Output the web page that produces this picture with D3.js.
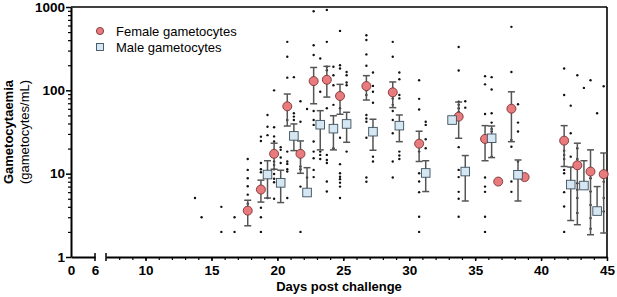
<!DOCTYPE html>
<html>
<head>
<meta charset="utf-8">
<script src="https://cdn.jsdelivr.net/npm/d3@7"></script>
<style>
  body { margin: 0; background: #fff; }
  svg { display: block; font-family: Arial, "Liberation Sans", sans-serif; }
  .axis path, .axis line { stroke: #000; }
  .axis text { font-size: 13.5px; font-weight: bold; fill: #000; }
</style>
</head>
<body>
<div id="chart"></div>
<script>
// female gametocytes: mean and error bar limits per day
const femaleDays = [18, 19, 20, 21, 22, 23, 24, 25, 27, 29, 31, 34, 36, 37, 38, 39, 42, 43, 44, 45];
const femaleMean = [3.6, 6.45, 17.3, 64.3, 17.3, 129, 134, 85.5, 112.5, 94.6, 22.9, 48.3, 26.1, 8.04, 60.2, 9.1, 24.9, 12.6, 10.6, 9.86];
const femaleLow  = [2.37, 4.56, 11.3, 37.3, 10.1, 69, 83, 51.6, 76.5, 62, 14, 26.6, 14.3, null, 24.2, null, 12.2, 2.44, 1.85, 1.94];
const femaleHigh = [4.8, 8.36, 23.2, 90.3, 24.7, 188, 194, 118, 150, 126, 32.3, 72.4, 37.7, null, 96, null, 37.7, 23.2, 19.3, 17.7];

// male gametocytes
const maleDays = [19, 20, 21, 22, 23, 24, 25, 27, 29, 31, 33, 34, 36, 38, 42, 43, 44];
const maleMean = [9.76, 7.76, 28.4, 5.94, 38.7, 34.7, 39.5, 31.9, 37.7, 10.2, 44, 10.6, 26.6, 9.7, 7.4, 7.2, 3.56];
const maleLow  = [5.1, 4.5, 18.9, null, 19.3, 19.3, 23.8, 19.1, 24.2, 6.1, null, 4.7, 15.6, 4.7, 2.74, null, null];
const maleHigh = [14.3, 11, 39.5, 11.8, 57, 49.6, 54.5, 45, 50.6, 14.3, null, 16.5, 37.3, 14.6, 12, 14.3, 7];

// individual values (day, values)
const femaleDots = [
  [14, [5.1]], [16, [4.0, 2.0]], [17, [3.0, 2.0]],
  [18, [15, 11.1, 8.8, 7.05, 5.6, 4.35]],
  [19, [27.8, 24.7, 13.4, 11.3, 10.4, 3.9, 3.0, 2.0]],
  [20, [100, 36, 28, 24.3, 14, 12.7, 11.3, 9.9, 8.7, 7.9, 5.0]],
  [21, [382, 253, 142, 44, 18.4, 14, 13.1, 11.3, 10.6, 5.1]],
  [22, [74, 42, 12.2, 11.3, 7, 2]],
  [23, [890, 348, 265, 56.5, 44, 38.5, 24.3, 18.4, 15.3, 11.1, 9.1]],
  [24, [923, 382, 192, 174, 61, 16.8, 14.6, 13.4, 8.05, 6.1]],
  [25, [517, 200, 183, 61, 27, 13, 10.1, 9.2, 8.6, 7.8, 7, 5.1]],
  [27, [459, 402, 270, 197, 100, 88, 50.6, 46, 42, 27, 9, 8]],
  [29, [382, 253, 80, 67, 56.5, 44, 30.5, 14, 9]],
  [31, [132, 79, 59, 18.4, 10.1, 8.05, 6, 3.04, 2]],
  [34, [331, 173, 73, 67, 61, 55, 20.8, 11.1, 9.1, 6.05, 5.0, 3.04]],
  [36, [148, 118, 52, 9, 7, 6.05, 3.04, 2]],
  [38, [578, 166, 25.4, 21, 8.05, 6.05]],
  [42, [183, 88, 18.9, 16.8, 15, 11.1, 10.1, 6, 4.04, 2]],
  [43, [152, 20.2, 15, 7.7, 6.4, 5.1, 3.37]],
  [44, [132, 8.8, 6.1, 4.2, 2.93, 2.18]],
  [45, [112, 8, 5.1, 3.52]]
];
const maleDots = [
  [14, [3.0]],
  [19, [50.6, 36.6, 29, 5.1]],
  [20, [20.8, 19.3, 15.6, 13.4]],
  [21, [144, 53, 48.4, 44]],
  [22, [59.6, 9.0]],
  [23, [241, 96, 18.4, 16.8, 15]],
  [24, [192, 152, 115, 67, 20.2]],
  [25, [166, 152, 124, 115, 18.4]],
  [27, [164, 113, 96, 71, 16, 14]],
  [29, [164, 136, 88, 80, 18.4, 16.5, 15]],
  [31, [42, 38.5, 25.9, 20.2]],
  [34, [74, 62]],
  [36, [144, 102.5, 53, 41, 34.4, 32, 16]],
  [38, [68, 41, 32, 14]],
  [42, [65.5, 30.5, 16]],
  [43, [107]],
  [44, [53]]
];

const yTicks = [1, 10, 100, 1000];
const xTicksLeft = [0, 6];
const xTicksRight = [10, 15, 20, 25, 30, 35, 40, 45];

const width = 617, height = 297;
const m = {left: 71, right: 607, top: 7, bottom: 257};

const svg = d3.select("#chart").append("svg")
    .attr("width", width)
    .attr("height", height);

// broken x axis: 0-6 squeezed, 7-45 main part
const xLeft = d3.scaleLinear().domain([0, 6]).range([m.left, 95]);
const xRight = d3.scaleLinear().domain([7, 45]).range([106, m.right]);
const x = d => d < 6.5 ? xLeft(d) : xRight(d);

const y = d3.scaleLog().domain([1, 1000]).range([m.bottom, m.top]);

const femaleOffset = -0.25, maleOffset = 0.25;

// frame (top and right)
svg.append("line")
    .attr("x1", m.left).attr("x2", m.right)
    .attr("y1", y(1000)).attr("y2", y(1000))
    .attr("stroke", "#000").attr("stroke-width", 1.6);
svg.append("line")
    .attr("x1", m.right).attr("x2", m.right)
    .attr("y1", y(1000)).attr("y2", y(1))
    .attr("stroke", "#000").attr("stroke-width", 1.6);

// y axis
const minorY = [];
[1, 10, 100].forEach(dec => d3.range(2, 10).forEach(k => minorY.push(dec * k)));

svg.append("g")
    .attr("class", "axis")
    .attr("transform", `translate(${m.left},0)`)
    .call(d3.axisLeft(y).tickValues(minorY).tickSize(3).tickFormat("").tickSizeOuter(0))
    .call(g => g.select(".domain").remove())
    .selectAll("line").attr("stroke-width", 1.2);

const yAxis = svg.append("g")
    .attr("class", "axis")
    .attr("transform", `translate(${m.left},0)`)
    .call(d3.axisLeft(y).tickValues(yTicks).tickFormat(d3.format("d")).tickSize(5).tickPadding(1).tickSizeOuter(0));
yAxis.select(".domain").attr("stroke-width", 2);
yAxis.selectAll("line").attr("stroke-width", 1.5);

// x axis, left part
const xAxisL = svg.append("g")
    .attr("class", "axis")
    .attr("transform", `translate(0,${m.bottom})`)
    .call(d3.axisBottom(xLeft).tickValues(xTicksLeft).tickFormat(d3.format("d")).tickSize(0).tickPadding(8).tickSizeOuter(0));
xAxisL.select(".domain").attr("stroke-width", 2);

// x axis, right part
svg.append("g")
    .attr("class", "axis")
    .attr("transform", `translate(0,${m.bottom})`)
    .call(d3.axisBottom(xRight).tickValues(d3.range(8, 45)).tickSize(3).tickFormat("").tickSizeOuter(0))
    .call(g => g.select(".domain").remove())
    .selectAll("line").attr("stroke-width", 1.2);

const xAxisR = svg.append("g")
    .attr("class", "axis")
    .attr("transform", `translate(0,${m.bottom})`)
    .call(d3.axisBottom(xRight).tickValues(xTicksRight).tickFormat(d3.format("d")).tickSize(4).tickPadding(4).tickSizeOuter(0));
xAxisR.select(".domain").attr("stroke-width", 2);
xAxisR.selectAll("line").attr("stroke-width", 1.5);

// break caps
svg.selectAll("line.brk")
    .data([6, 7])
    .enter().append("line")
    .attr("class", "brk")
    .attr("x1", d => x(d)).attr("x2", d => x(d))
    .attr("y1", m.bottom - 4).attr("y2", m.bottom + 4)
    .attr("stroke", "#000").attr("stroke-width", 1.5);

// axis titles
svg.append("text")
    .attr("x", (m.left + m.right) / 2).attr("y", 291)
    .attr("text-anchor", "middle")
    .style("font-size", "13px").style("font-weight", "bold")
    .text("Days post challenge");

const yt = svg.append("text")
    .attr("transform", `translate(13,${(m.top + m.bottom) / 2}) rotate(-90)`)
    .attr("text-anchor", "middle");
yt.append("tspan").attr("x", 0).attr("dy", 0)
    .style("font-size", "13px").style("font-weight", "bold")
    .text("Gametocytaemia");
yt.append("tspan").attr("x", 0).attr("dy", 16)
    .style("font-size", "13px")
    .text("(gametocytes/mL)");

// individual dots
const dots = [];
femaleDots.forEach(([d, vals]) => vals.forEach(v => dots.push({day: d + femaleOffset, v})));
maleDots.forEach(([d, vals]) => vals.forEach(v => dots.push({day: d + maleOffset, v})));

svg.append("g").selectAll("circle")
    .data(dots)
    .enter().append("circle")
    .attr("cx", d => x(d.day))
    .attr("cy", d => y(d.v))
    .attr("r", 1.2)
    .attr("fill", "#111");

// error bars
function errorBars(days, mean, low, high, offset) {
    const g = svg.append("g").attr("stroke", "#555").attr("stroke-width", 1.5).attr("fill", "none");
    days.forEach((d, i) => {
        const cx = x(d + offset);
        if (high[i] == null) return;
        g.append("line")
            .attr("x1", cx).attr("x2", cx)
            .attr("y1", y(high[i])).attr("y2", y(low[i] != null ? low[i] : mean[i]));
        g.append("line")
            .attr("x1", cx - 3.5).attr("x2", cx + 3.5)
            .attr("y1", y(high[i])).attr("y2", y(high[i]));
        if (low[i] != null) {
            g.append("line")
                .attr("x1", cx - 3.5).attr("x2", cx + 3.5)
                .attr("y1", y(low[i])).attr("y2", y(low[i]));
        }
    });
}
errorBars(femaleDays, femaleMean, femaleLow, femaleHigh, femaleOffset);
errorBars(maleDays, maleMean, maleLow, maleHigh, maleOffset);

// means
const femaleColor = "#e97a7d", femaleStroke = "#7a3434";
const maleColor = "#d4e7f3", maleStroke = "#3d4f5c";

svg.append("g").selectAll("circle")
    .data(femaleDays.map((d, i) => ({day: d, v: femaleMean[i]})))
    .enter().append("circle")
    .attr("cx", d => x(d.day + femaleOffset))
    .attr("cy", d => y(d.v))
    .attr("r", 4.5)
    .attr("fill", femaleColor)
    .attr("stroke", femaleStroke)
    .attr("stroke-width", 0.9);

svg.append("g").selectAll("rect")
    .data(maleDays.map((d, i) => ({day: d, v: maleMean[i]})))
    .enter().append("rect")
    .attr("x", d => x(d.day + maleOffset) - 4.3)
    .attr("y", d => y(d.v) - 4.3)
    .attr("width", 8.6).attr("height", 8.6)
    .attr("fill", maleColor)
    .attr("stroke", maleStroke)
    .attr("stroke-width", 0.9);

// legend
const legend = svg.append("g").attr("transform", "translate(100,31)");
legend.append("circle")
    .attr("cx", 0).attr("cy", 0).attr("r", 3.6)
    .attr("fill", femaleColor).attr("stroke", femaleStroke).attr("stroke-width", 0.9);
legend.append("rect")
    .attr("x", -3.5).attr("y", 16 - 3.5).attr("width", 7).attr("height", 7)
    .attr("fill", maleColor).attr("stroke", maleStroke).attr("stroke-width", 0.9);
legend.append("text")
    .attr("x", 16).attr("y", 0).attr("dy", "0.35em")
    .style("font-size", "13px")
    .text("Female gametocytes");
legend.append("text")
    .attr("x", 16).attr("y", 16).attr("dy", "0.35em")
    .style("font-size", "13px")
    .text("Male gametocytes");
</script>
</body>
</html>
